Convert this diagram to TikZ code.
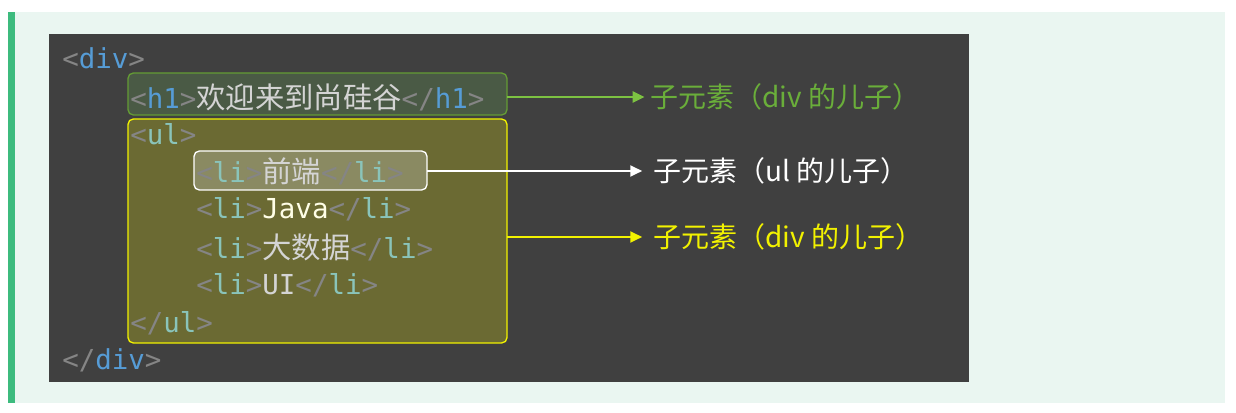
\documentclass[tikz,border=0pt]{standalone}
\usepackage{fontspec}
\setmonofont{DejaVu Sans Mono}
\newfontfamily\cjk{Noto Sans CJK SC}
\usetikzlibrary{arrows.meta}
\definecolor{pagebg}{HTML}{EAF6F1}
\definecolor{barcol}{HTML}{3DBB7E}
\definecolor{panel}{HTML}{404040}
\definecolor{brk}{HTML}{858585}
\definecolor{tagblue}{HTML}{569CD6}
\definecolor{tagteal}{HTML}{8AC4BA}
\definecolor{txt}{HTML}{D4D4D4}
\definecolor{grn}{HTML}{7DC242}
\definecolor{grnlab}{HTML}{6AAE3A}
\definecolor{ylw}{HTML}{F2F200}
\definecolor{h1fill}{HTML}{4A5A45}
\definecolor{ulfill}{HTML}{6B6A33}
\definecolor{lifill}{HTML}{8A8A62}
\newcommand{\zh}[1]{{\cjk\fontsize{22}{22}\selectfont #1}}
\newcommand{\lt}{\textcolor{brk}{<}}
\newcommand{\gt}{\textcolor{brk}{>}}
\newcommand{\lts}{\textcolor{brk}{</}}
\begin{document}
\begin{tikzpicture}[x=0.75pt,y=-0.75pt]
  \tikzset{code/.style = {anchor=west,inner sep=0pt,font=\ttfamily\fontsize{20.6}{20.6}\selectfont,text=txt}}
  \tikzset{lab/.style = {anchor=west,inner sep=0pt,font=\cjk\fontsize{21}{21}\selectfont}}
  \tikzset{link/.style = {line width=2.2pt,-{Triangle[length=9pt,width=8pt]}}}
  \useasboundingbox (0,0) rectangle (1236,413);
  \fill[pagebg] (8,12) rectangle (1225,403);
  \fill[barcol] (8,12) rectangle (15,403);
  \fill[panel] (49,34) rectangle (969,382);

  % highlight boxes
  \draw[rounded corners=4pt,draw=grn!80!black,line width=1pt,fill=h1fill] (128,73) rectangle (507,115);
  \draw[rounded corners=4pt,draw=ylw,line width=1pt,fill=ulfill] (128,119) rectangle (507,343);
  \draw[rounded corners=4pt,draw=white,line width=1pt,fill=lifill] (194,151) rectangle (427,190);
  \coordinate (h1box) at (507,97);
  \coordinate (ulbox) at (507,237);
  \coordinate (libox) at (427,171);

  % code lines
  \node[code] (div) at (62,58) {\lt\textcolor{tagblue}{div}\gt};
  \node[code] (h1) at (130,97) {\lt\textcolor{tagblue}{h1}\gt\zh{欢迎来到尚硅谷}\lts\textcolor{tagblue}{h1}\gt};
  \node[code] (ul) at (130,134) {\lt\textcolor{tagteal}{ul}\gt};
  \node[code] (li1) at (196,171) {\lt\textcolor{tagteal}{li}\gt\zh{前端}\lts\textcolor{tagteal}{li}\gt};
  \node[code] (li2) at (196,209) {\lt\textcolor{tagteal}{li}\gt\textcolor{white!90!yellow}{Java}\lts\textcolor{tagteal}{li}\gt};
  \node[code] (li3) at (196,247) {\lt\textcolor{tagteal}{li}\gt\zh{大数据}\lts\textcolor{tagteal}{li}\gt};
  \node[code] (li4) at (196,285) {\lt\textcolor{tagteal}{li}\gt UI\lts\textcolor{tagteal}{li}\gt};
  \node[code] (ulend) at (130,323) {\lts\textcolor{tagteal}{ul}\gt};
  \node[code] (divend) at (62,360) {\lts\textcolor{tagblue}{div}\gt};

  % labels
  \node[lab,text=grnlab] (labA) at (650,97) {子元素（div 的儿子）};
  \node[lab,text=white] (labB) at (653,171) {子元素（ul 的儿子）};
  \node[lab,text=ylw] (labC) at (653,237) {子元素（div 的儿子）};

  \draw[link,grn] (h1box) -- ([xshift=-4pt]labA.west);
  \draw[link,white] (libox) -- ([xshift=-8pt]labB.west);
  \draw[link,ylw] (ulbox) -- ([xshift=-8pt]labC.west);
\end{tikzpicture}
\end{document}
